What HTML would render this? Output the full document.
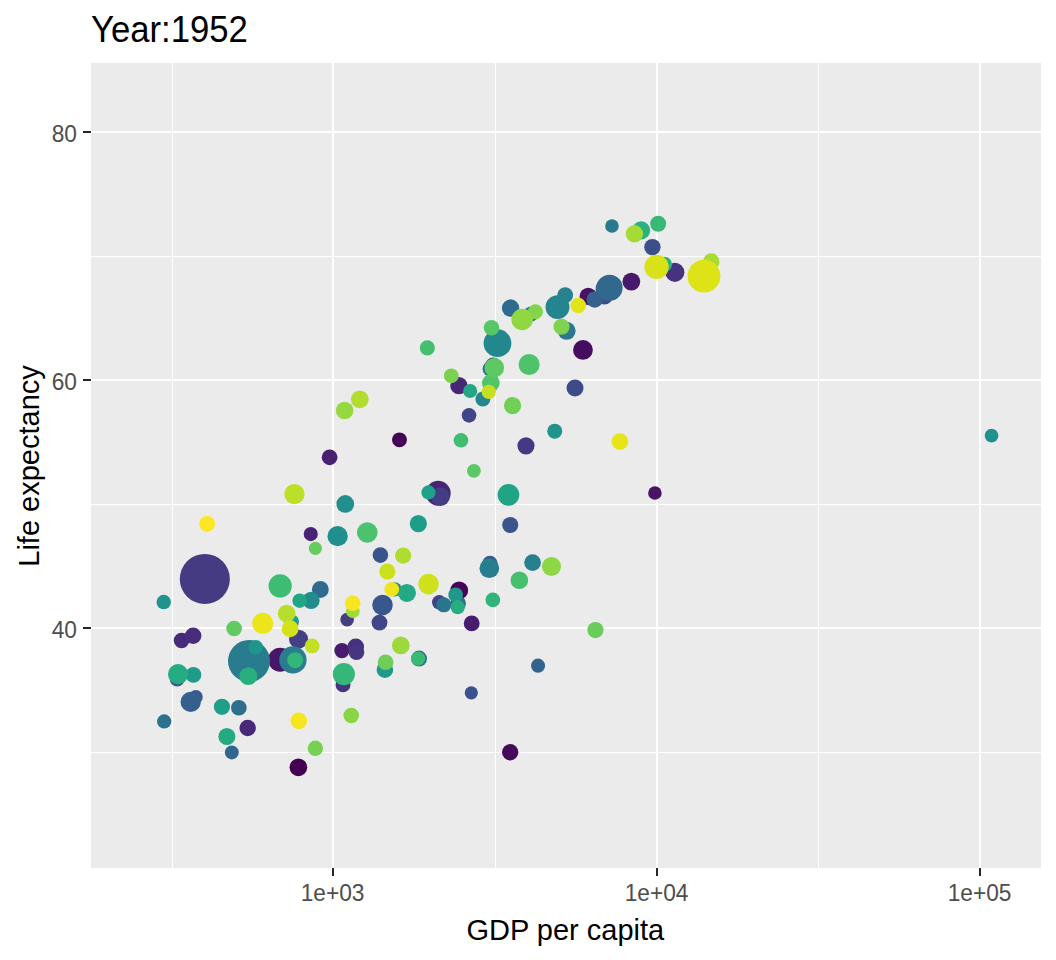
<!DOCTYPE html>
<html><head><meta charset="utf-8"><style>
html,body{margin:0;padding:0;background:#fff;width:1056px;height:960px;overflow:hidden}
svg{display:block;font-family:"Liberation Sans",sans-serif}
</style></head><body>
<svg width="1056" height="960" viewBox="0 0 1056 960">
<rect x="0" y="0" width="1056" height="960" fill="#fff"/>
<rect x="91" y="63" width="950" height="805" fill="#ebebeb"/>
<g fill="#fff" shape-rendering="crispEdges">
<rect x="172" y="63" width="1" height="805"/>
<rect x="495" y="63" width="1" height="805"/>
<rect x="818" y="63" width="1" height="805"/>
<rect x="91" y="256" width="950" height="1"/>
<rect x="91" y="504" width="950" height="1"/>
<rect x="91" y="752" width="950" height="1"/>
<rect x="332" y="63" width="2" height="805"/>
<rect x="656" y="63" width="2" height="805"/>
<rect x="979" y="63" width="2" height="805"/>
<rect x="91" y="131" width="950" height="2"/>
<rect x="91" y="379" width="950" height="2"/>
<rect x="91" y="627" width="950" height="2"/>
</g>
<g>
<circle cx="298.38" cy="767.29" r="8.84" fill="#440154"/>
<circle cx="399.49" cy="439.82" r="7.44" fill="#450357"/>
<circle cx="459.18" cy="590.40" r="8.96" fill="#450659"/>
<circle cx="510.17" cy="752.25" r="8.18" fill="#46095c"/>
<circle cx="582.96" cy="349.93" r="9.88" fill="#460c5f"/>
<circle cx="657.36" cy="267.72" r="8.88" fill="#470e61"/>
<circle cx="588.22" cy="296.46" r="8.63" fill="#471164"/>
<circle cx="654.92" cy="492.99" r="6.77" fill="#481466"/>
<circle cx="280.08" cy="659.70" r="11.94" fill="#481668"/>
<circle cx="631.36" cy="281.60" r="8.88" fill="#48196b"/>
<circle cx="341.92" cy="650.55" r="7.59" fill="#481b6d"/>
<circle cx="471.70" cy="623.40" r="7.89" fill="#481d6f"/>
<circle cx="329.61" cy="457.29" r="7.87" fill="#482071"/>
<circle cx="310.75" cy="534.09" r="7.06" fill="#482273"/>
<circle cx="438.19" cy="493.26" r="12.47" fill="#482475"/>
<circle cx="458.91" cy="385.68" r="8.68" fill="#482777"/>
<circle cx="247.67" cy="727.96" r="8.22" fill="#482979"/>
<circle cx="181.55" cy="640.54" r="7.79" fill="#472b7a"/>
<circle cx="193.14" cy="635.75" r="8.26" fill="#472d7c"/>
<circle cx="355.75" cy="646.83" r="8.32" fill="#47307d"/>
<circle cx="674.80" cy="272.30" r="9.58" fill="#46327f"/>
<circle cx="343.05" cy="684.74" r="7.45" fill="#463480"/>
<circle cx="356.46" cy="652.17" r="7.84" fill="#453681"/>
<circle cx="525.97" cy="445.83" r="8.55" fill="#443982"/>
<circle cx="204.83" cy="578.97" r="25.06" fill="#443b83"/>
<circle cx="440.51" cy="496.66" r="9.32" fill="#433d84"/>
<circle cx="347.14" cy="619.67" r="6.82" fill="#423f85"/>
<circle cx="298.57" cy="639.15" r="9.51" fill="#424186"/>
<circle cx="439.29" cy="602.37" r="7.27" fill="#414387"/>
<circle cx="469.04" cy="415.34" r="7.30" fill="#404588"/>
<circle cx="379.49" cy="622.62" r="7.91" fill="#3f4788"/>
<circle cx="493.16" cy="365.73" r="8.11" fill="#3e4989"/>
<circle cx="575.02" cy="387.89" r="8.49" fill="#3e4b8a"/>
<circle cx="604.19" cy="295.60" r="8.94" fill="#3d4d8a"/>
<circle cx="652.41" cy="247.15" r="8.20" fill="#3c4f8b"/>
<circle cx="471.30" cy="692.81" r="6.62" fill="#3b518b"/>
<circle cx="380.41" cy="555.08" r="7.80" fill="#3a538b"/>
<circle cx="510.23" cy="524.98" r="8.04" fill="#39558c"/>
<circle cx="382.51" cy="605.07" r="10.27" fill="#38578c"/>
<circle cx="489.93" cy="563.33" r="7.68" fill="#37598c"/>
<circle cx="195.85" cy="696.90" r="6.89" fill="#365b8d"/>
<circle cx="177.20" cy="678.98" r="7.50" fill="#365d8d"/>
<circle cx="190.71" cy="701.91" r="10.15" fill="#355f8d"/>
<circle cx="594.65" cy="299.56" r="8.15" fill="#34618d"/>
<circle cx="607.30" cy="288.91" r="11.68" fill="#33628d"/>
<circle cx="538.04" cy="665.66" r="7.05" fill="#32648e"/>
<circle cx="231.80" cy="752.43" r="6.95" fill="#31668e"/>
<circle cx="609.56" cy="287.79" r="13.09" fill="#31688e"/>
<circle cx="320.33" cy="589.51" r="8.42" fill="#306a8e"/>
<circle cx="510.57" cy="308.11" r="8.75" fill="#2f6b8e"/>
<circle cx="457.99" cy="603.46" r="7.95" fill="#2e6d8e"/>
<circle cx="238.85" cy="707.72" r="7.84" fill="#2e6f8e"/>
<circle cx="164.19" cy="721.46" r="7.14" fill="#2d718e"/>
<circle cx="419.05" cy="658.53" r="7.96" fill="#2c728e"/>
<circle cx="443.80" cy="604.84" r="7.52" fill="#2b748e"/>
<circle cx="490.21" cy="368.82" r="7.70" fill="#2b768e"/>
<circle cx="566.66" cy="330.79" r="8.98" fill="#2a778e"/>
<circle cx="611.97" cy="225.96" r="6.81" fill="#29798e"/>
<circle cx="249.00" cy="661.00" r="21.00" fill="#297b8e"/>
<circle cx="292.91" cy="659.90" r="13.67" fill="#287d8e"/>
<circle cx="489.33" cy="568.20" r="9.83" fill="#277e8e"/>
<circle cx="532.58" cy="562.61" r="8.39" fill="#27808e"/>
<circle cx="565.23" cy="295.10" r="7.91" fill="#26828e"/>
<circle cx="531.10" cy="313.94" r="7.55" fill="#25838e"/>
<circle cx="557.50" cy="307.12" r="11.98" fill="#25858e"/>
<circle cx="482.86" cy="398.93" r="7.49" fill="#24878e"/>
<circle cx="497.50" cy="343.18" r="13.86" fill="#23888e"/>
<circle cx="394.65" cy="589.40" r="7.16" fill="#238a8d"/>
<circle cx="311.13" cy="600.40" r="8.56" fill="#228c8d"/>
<circle cx="345.26" cy="503.93" r="8.90" fill="#228e8d"/>
<circle cx="337.61" cy="536.18" r="10.16" fill="#218f8d"/>
<circle cx="991.54" cy="435.67" r="6.82" fill="#20918c"/>
<circle cx="554.72" cy="431.17" r="7.50" fill="#20938c"/>
<circle cx="163.72" cy="602.04" r="7.23" fill="#1f948c"/>
<circle cx="255.78" cy="647.36" r="7.28" fill="#1f968b"/>
<circle cx="455.61" cy="594.79" r="7.34" fill="#1f988b"/>
<circle cx="384.89" cy="669.65" r="8.28" fill="#1f998a"/>
<circle cx="193.40" cy="674.92" r="7.90" fill="#1e9b8a"/>
<circle cx="418.35" cy="523.67" r="8.60" fill="#1e9d89"/>
<circle cx="221.94" cy="706.78" r="8.10" fill="#1f9f88"/>
<circle cx="291.67" cy="621.80" r="7.34" fill="#1fa088"/>
<circle cx="428.47" cy="492.41" r="7.10" fill="#1fa287"/>
<circle cx="508.46" cy="494.85" r="10.87" fill="#20a486"/>
<circle cx="299.65" cy="600.72" r="7.25" fill="#21a585"/>
<circle cx="470.14" cy="391.08" r="7.04" fill="#22a785"/>
<circle cx="406.93" cy="592.93" r="9.04" fill="#23a984"/>
<circle cx="226.88" cy="736.50" r="8.56" fill="#24aa83"/>
<circle cx="178.07" cy="674.14" r="10.08" fill="#26ac82"/>
<circle cx="457.73" cy="607.16" r="7.09" fill="#27ae80"/>
<circle cx="248.34" cy="676.15" r="8.94" fill="#29af7f"/>
<circle cx="641.09" cy="230.42" r="9.09" fill="#2bb17e"/>
<circle cx="664.41" cy="264.37" r="7.67" fill="#2eb27d"/>
<circle cx="492.85" cy="599.86" r="7.40" fill="#30b47b"/>
<circle cx="295.17" cy="660.20" r="8.00" fill="#32b67a"/>
<circle cx="343.83" cy="674.08" r="11.08" fill="#35b779"/>
<circle cx="658.14" cy="223.73" r="7.99" fill="#38b977"/>
<circle cx="418.12" cy="658.54" r="7.10" fill="#3bba75"/>
<circle cx="280.15" cy="585.96" r="11.61" fill="#3ebc74"/>
<circle cx="460.97" cy="440.31" r="7.31" fill="#41bd72"/>
<circle cx="427.35" cy="347.90" r="7.53" fill="#44bf70"/>
<circle cx="519.35" cy="580.18" r="8.79" fill="#47c06e"/>
<circle cx="367.27" cy="532.48" r="10.28" fill="#4bc26d"/>
<circle cx="529.12" cy="364.49" r="10.55" fill="#4ec36b"/>
<circle cx="490.85" cy="382.95" r="8.86" fill="#52c569"/>
<circle cx="491.47" cy="327.69" r="7.73" fill="#56c666"/>
<circle cx="473.87" cy="470.87" r="6.92" fill="#5ac864"/>
<circle cx="494.30" cy="367.71" r="9.77" fill="#5ec962"/>
<circle cx="234.12" cy="628.53" r="7.81" fill="#61ca60"/>
<circle cx="315.35" cy="548.35" r="6.58" fill="#65cc5d"/>
<circle cx="595.42" cy="630.08" r="8.13" fill="#6acd5b"/>
<circle cx="385.60" cy="662.26" r="7.86" fill="#6ece58"/>
<circle cx="512.57" cy="405.55" r="8.62" fill="#72cf56"/>
<circle cx="315.38" cy="748.33" r="7.71" fill="#76d153"/>
<circle cx="451.29" cy="375.81" r="7.38" fill="#7bd251"/>
<circle cx="561.52" cy="326.70" r="8.04" fill="#7fd34e"/>
<circle cx="535.45" cy="311.70" r="7.51" fill="#84d44b"/>
<circle cx="351.25" cy="715.54" r="7.81" fill="#88d548"/>
<circle cx="551.50" cy="566.47" r="9.53" fill="#8dd645"/>
<circle cx="522.14" cy="319.51" r="10.76" fill="#91d742"/>
<circle cx="344.64" cy="410.54" r="8.78" fill="#96d83f"/>
<circle cx="400.79" cy="645.44" r="8.85" fill="#9bd93c"/>
<circle cx="352.81" cy="611.10" r="6.95" fill="#9fda39"/>
<circle cx="634.43" cy="233.77" r="8.66" fill="#a4db36"/>
<circle cx="711.24" cy="261.52" r="8.28" fill="#a9dc33"/>
<circle cx="403.16" cy="555.64" r="8.06" fill="#aedc30"/>
<circle cx="359.79" cy="399.31" r="8.86" fill="#b3dd2d"/>
<circle cx="286.58" cy="613.47" r="8.83" fill="#b7de2a"/>
<circle cx="294.42" cy="494.12" r="10.19" fill="#bcdf27"/>
<circle cx="312.16" cy="645.93" r="7.42" fill="#c1df24"/>
<circle cx="488.77" cy="391.87" r="7.18" fill="#c6e021"/>
<circle cx="387.34" cy="571.53" r="8.06" fill="#cbe11e"/>
<circle cx="428.55" cy="584.11" r="10.27" fill="#cfe11c"/>
<circle cx="290.08" cy="628.80" r="8.46" fill="#d4e21a"/>
<circle cx="656.51" cy="266.98" r="12.14" fill="#d9e219"/>
<circle cx="703.97" cy="276.14" r="16.41" fill="#dee318"/>
<circle cx="578.26" cy="305.50" r="7.74" fill="#e2e418"/>
<circle cx="619.90" cy="441.58" r="8.39" fill="#e7e419"/>
<circle cx="262.80" cy="623.42" r="10.59" fill="#ece51a"/>
<circle cx="391.78" cy="589.38" r="7.35" fill="#f0e51c"/>
<circle cx="298.78" cy="720.86" r="8.31" fill="#f5e61f"/>
<circle cx="352.69" cy="603.28" r="7.84" fill="#f9e622"/>
<circle cx="207.07" cy="523.82" r="7.94" fill="#fde725"/>
</g>
<g fill="#262626" shape-rendering="crispEdges">
<rect x="332" y="868" width="2" height="8"/>
<rect x="656" y="868" width="2" height="8"/>
<rect x="979" y="868" width="2" height="8"/>
<rect x="83" y="131" width="8" height="2"/>
<rect x="83" y="379" width="8" height="2"/>
<rect x="83" y="627" width="8" height="2"/>
</g>
<g fill="#4d4d4d" font-size="22.7px">
<text transform="translate(332.6,901.2) scale(1,1.09)" text-anchor="middle">1e+03</text>
<text transform="translate(656.6,901.2) scale(1,1.09)" text-anchor="middle">1e+04</text>
<text transform="translate(979.6,901.2) scale(1,1.09)" text-anchor="middle">1e+05</text>
<text transform="translate(76.9,142.2) scale(1,1.09)" text-anchor="end">80</text>
<text transform="translate(76.9,390.2) scale(1,1.09)" text-anchor="end">60</text>
<text transform="translate(76.9,638.2) scale(1,1.09)" text-anchor="end">40</text>
</g>
<text transform="translate(565.3,940.2) scale(1,1.0)" text-anchor="middle" font-size="29px" fill="#000">GDP per capita</text>
<text transform="translate(39,466) rotate(-90)" text-anchor="middle" font-size="29px" fill="#000">Life expectancy</text>
<text transform="translate(91,42.3) scale(1,1.04)" font-size="34.7px" fill="#000">Year:1952</text>
</svg></body></html>
